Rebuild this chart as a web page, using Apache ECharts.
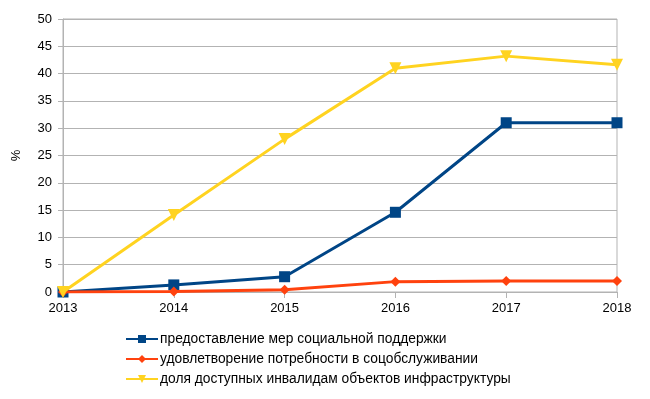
<!DOCTYPE html>
<html>
<head>
<meta charset="utf-8">
<script src="https://cdn.jsdelivr.net/npm/echarts@6/dist/echarts.min.js"></script>
<style>
  html, body { margin: 0; padding: 0; background: #fff; }
  #chart { width: 650px; height: 399px; }
</style>
</head>
<body>
<div id="chart"></div>
<script>
// годы и значения, %
var years = ['2013', '2014', '2015', '2016', '2017', '2018'];
var support = [0, 1.3, 2.8, 14.6, 31, 31];
var services = [0, 0.1, 0.4, 1.9, 2.0, 2.0];
var access = [0, 14.1, 28, 41, 43.2, 41.6];

var chart = echarts.init(document.getElementById('chart'));

var font = 'Liberation Sans, Arial, sans-serif';

var option = {
  animation: false,
  textStyle: { fontFamily: font },
  grid: {
    left: 63, right: 33, top: 19, bottom: 107,
    show: true, borderColor: '#b3b3b3', borderWidth: 1
  },
  legend: {
    orient: 'vertical',
    left: 120,
    top: 327,
    itemWidth: 32,
    itemHeight: 10,
    itemGap: 6,
    textStyle: { fontSize: 13.8, color: '#000', fontFamily: font, padding: [0, 0, 0, -3] },
    data: [
      'предоставление мер социальной поддержки',
      'удовлетворение потребности в соцобслуживании',
      'доля доступных инвалидам объектов инфраструктуры'
    ]
  },
  xAxis: {
    type: 'category',
    boundaryGap: false,
    data: years,
    axisLine: { lineStyle: { color: '#b3b3b3', width: 1 } },
    axisTick: { show: true, length: 6, lineStyle: { color: '#b3b3b3' } },
    axisLabel: { color: '#000', fontSize: 13, margin: 10 },
    splitLine: { show: false }
  },
  yAxis: {
    type: 'value',
    min: 0,
    max: 50,
    interval: 5,
    name: '%',
    nameLocation: 'middle',
    nameRotate: 90,
    nameGap: 40,
    nameTextStyle: { color: '#000', fontSize: 13 },
    axisLine: { show: true, lineStyle: { color: '#b3b3b3' } },
    axisTick: { show: true, length: 5, lineStyle: { color: '#b3b3b3' } },
    axisLabel: { color: '#000', fontSize: 13, margin: 11 },
    splitLine: { show: true, lineStyle: { color: '#b3b3b3', width: 1 } }
  },
  series: [
    {
      name: 'предоставление мер социальной поддержки',
      type: 'line',
      data: support,
      symbol: 'rect',
      symbolSize: 11,
      lineStyle: { width: 3, color: '#004586' },
      itemStyle: { color: '#004586' },
      z: 3
    },
    {
      name: 'удовлетворение потребности в соцобслуживании',
      type: 'line',
      data: services,
      symbol: 'diamond',
      symbolSize: 10,
      lineStyle: { width: 3, color: '#ff420e' },
      itemStyle: { color: '#ff420e' },
      z: 4
    },
    {
      name: 'доля доступных инвалидам объектов инфраструктуры',
      type: 'line',
      data: access,
      symbol: 'triangle',
      symbolRotate: 180,
      symbolSize: 12,
      lineStyle: { width: 3, color: '#ffd320' },
      itemStyle: { color: '#ffd320' },
      z: 5
    }
  ]
};

chart.setOption(option);
</script>
</body>
</html>
